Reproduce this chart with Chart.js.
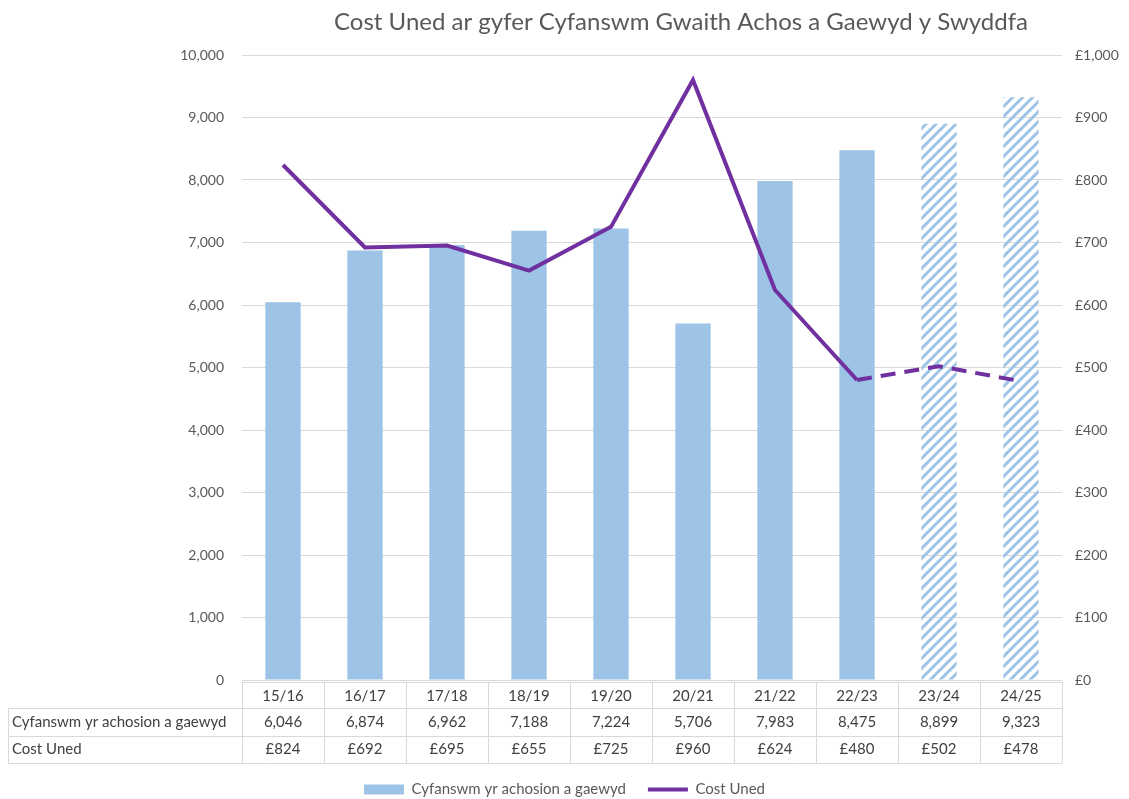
<!DOCTYPE html>
<html>
<head>
<meta charset="utf-8">
<script src="https://cdn.jsdelivr.net/npm/chart.js@4.4.0/dist/chart.umd.min.js"></script>
<style>
html, body { margin: 0; padding: 0; background: #fff; }
#wrap { width: 1129px; height: 799px; }
</style>
</head>
<body>
<div id="wrap"><canvas id="costChart"></canvas></div>
<script>
// chart data
var categories = ['15/16', '16/17', '17/18', '18/19', '19/20', '20/21', '21/22', '22/23', '23/24', '24/25'];
var casesClosed = [6046, 6874, 6962, 7188, 7224, 5706, 7983, 8475, 8899, 9323];
var unitCost = [824, 692, 695, 655, 725, 960, 624, 480, 502, 478];
var seriesNames = ['Cyfanswm yr achosion a gaewyd', 'Cost Uned'];
var chartTitle = 'Cost Uned ar gyfer Cyfanswm Gwaith Achos a Gaewyd y Swyddfa';
var forecastFrom = 8; // 23/24 onwards are projections (hatched / dashed)

var FONT = 'Lato, "Open Sans", sans-serif';
var barBlue = '#9DC3E6';
var purple = '#7030A0';

function makeHatch(color) {
    var c = document.createElement('canvas');
    c.width = 10; c.height = 10;
    var g = c.getContext('2d');
    g.strokeStyle = color;
    g.lineWidth = 3;
    g.beginPath();
    g.moveTo(0, 10); g.lineTo(10, 0);
    g.moveTo(-5, 5); g.lineTo(5, -5);
    g.moveTo(5, 15); g.lineTo(15, 5);
    g.stroke();
    return g.createPattern(c, 'repeat');
}

var hatch = makeHatch(barBlue);
var barColors = categories.map(function (c, i) {
    return i >= forecastFrom ? hatch : barBlue;
});

function fmtNum(v) { return v.toLocaleString('en-GB'); }
function fmtCost(v) { return '£' + v.toLocaleString('en-GB'); }

// title drawn over the plot (Excel puts it right of centre)
var titlePlugin = {
    id: 'plotTitle',
    afterDraw: function (chart) {
        var ctx = chart.ctx;
        ctx.save();
        ctx.font = '24px ' + FONT;
        ctx.fillStyle = '#595959';
        ctx.textAlign = 'center';
        ctx.textBaseline = 'middle';
        ctx.fillText(chartTitle, 681, 22);
        ctx.restore();
    }
};

// data table under the x axis
var tablePlugin = {
    id: 'dataTable',
    afterDraw: function (chart) {
        var ctx = chart.ctx;
        var x = chart.scales.x;
        var area = chart.chartArea;
        var step = x.getPixelForValue(1) - x.getPixelForValue(0);
        var left = area.left, right = left + step * categories.length;
        var rows = [area.bottom + 2, area.bottom + 28, area.bottom + 56, area.bottom + 83];
        var labelLeft = 8;

        ctx.save();
        ctx.strokeStyle = '#d9d9d9';
        ctx.lineWidth = 1;
        ctx.beginPath();
        ctx.moveTo(left, rows[0] + 0.5); ctx.lineTo(right, rows[0] + 0.5);
        for (var r = 1; r < rows.length; r++) {
            ctx.moveTo(labelLeft, rows[r] + 0.5); ctx.lineTo(right, rows[r] + 0.5);
        }
        for (var k = 0; k <= categories.length; k++) {
            var px = Math.round(left + k * step) + 0.5;
            ctx.moveTo(px, rows[0]); ctx.lineTo(px, rows[3]);
        }
        ctx.moveTo(labelLeft + 0.5, rows[1]); ctx.lineTo(labelLeft + 0.5, rows[3]);
        ctx.stroke();

        ctx.font = '15px ' + FONT;
        ctx.fillStyle = '#404040';
        ctx.textBaseline = 'middle';
        ctx.textAlign = 'left';
        ctx.fillText(seriesNames[0], 12, (rows[1] + rows[2]) / 2);
        ctx.fillText(seriesNames[1], 12, (rows[2] + rows[3]) / 2);
        ctx.textAlign = 'center';
        categories.forEach(function (c, i) {
            var cx = x.getPixelForValue(i);
            ctx.fillText(c, cx, (rows[0] + rows[1]) / 2 + 1);
            ctx.fillText(fmtNum(casesClosed[i]), cx, (rows[1] + rows[2]) / 2);
            ctx.fillText(fmtCost(unitCost[i]), cx, (rows[2] + rows[3]) / 2);
        });
        ctx.restore();
    }
};

var ctx = document.getElementById('costChart');
var costChart = new Chart(ctx, {
    data: {
        labels: categories,
        datasets: [
            {
                type: 'line',
                label: seriesNames[1],
                data: unitCost,
                yAxisID: 'y1',
                borderColor: purple,
                backgroundColor: purple,
                borderWidth: 4,
                pointRadius: 0,
                pointStyle: 'line',
                tension: 0,
                order: 0,
                segment: {
                    borderDash: function (c) { return c.p1DataIndex >= forecastFrom ? [15, 9] : undefined; }
                }
            },
            {
                type: 'bar',
                label: seriesNames[0],
                data: casesClosed,
                yAxisID: 'y',
                backgroundColor: barColors,
                pointStyle: 'rect',
                barPercentage: 0.43,
                categoryPercentage: 1,
                order: 1
            }
        ]
    },
    options: {
        responsive: true,
        maintainAspectRatio: false,
        animation: false,
        devicePixelRatio: 1,
        layout: { padding: { top: 55, left: 0, right: 0, bottom: -8 } },
        plugins: {
            title: { display: false },
            tooltip: { enabled: false },
            legend: {
                position: 'bottom',
                reverse: true,
                labels: {
                    usePointStyle: true,
                    pointStyleWidth: 40,
                    boxHeight: 10,
                    padding: 22,
                    color: '#595959',
                    font: { family: FONT, size: 15 }
                }
            }
        },
        scales: {
            x: {
                grid: { display: false },
                border: { display: false },
                ticks: { display: false },
                afterFit: function (s) { s.height = 80; }
            },
            y: {
                position: 'left',
                min: 0,
                max: 10000,
                ticks: {
                    stepSize: 1000,
                    padding: 18,
                    color: '#595959',
                    font: { family: FONT, size: 14 },
                    callback: function (v) { return fmtNum(v); }
                },
                grid: { color: '#d9d9d9', drawTicks: false },
                border: { display: false },
                afterFit: function (s) { s.width = 242; }
            },
            y1: {
                position: 'right',
                min: 0,
                max: 1000,
                ticks: {
                    stepSize: 100,
                    padding: 13,
                    color: '#595959',
                    font: { family: FONT, size: 14 },
                    callback: function (v) { return fmtCost(v); }
                },
                grid: { display: false, drawTicks: false },
                border: { display: false },
                afterFit: function (s) { s.width = 67; }
            }
        }
    },
    plugins: [titlePlugin, tablePlugin]
});
</script>
</body>
</html>
